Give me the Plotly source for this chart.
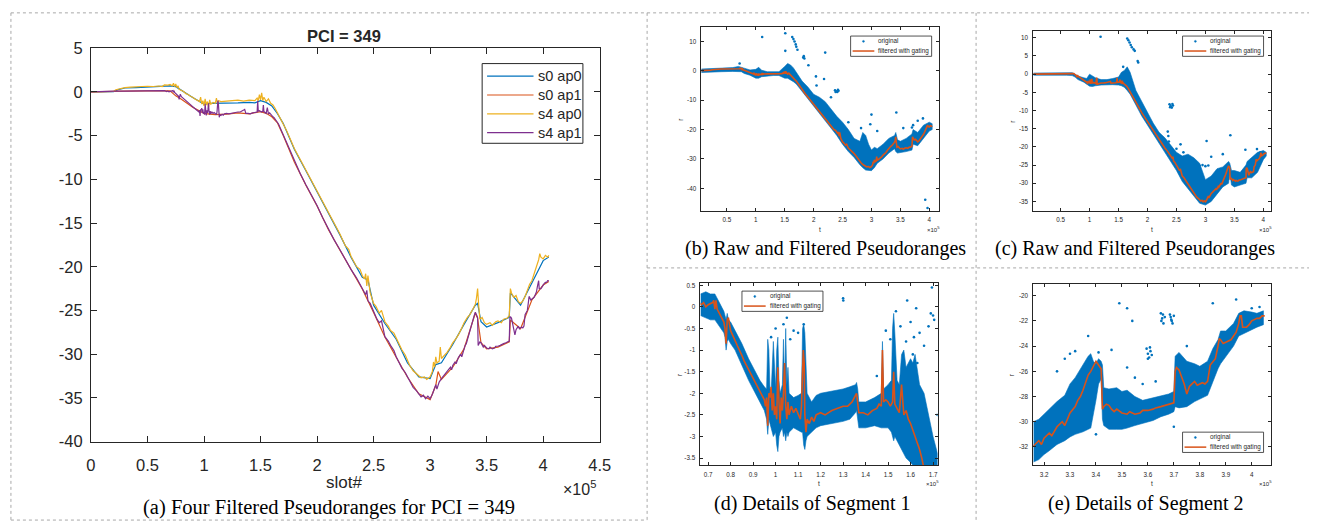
import plotly.graph_objects as go

W, H = 1320, 531
def px(x): return x / W
def py(y): return 1 - y / H

BLUE, ORANGE, YELLOW, PURPLE = '#0072BD', '#D95319', '#EDB120', '#7E2F8E'

# ---------------- main panel data (slot in units of 1e5) ----------------
s0_ap0_t = [0, 0.2, 0.25, 0.3, 0.4, 0.5, 0.6, 0.65, 0.7, 0.75, 0.8, 0.85, 0.9, 0.95, 1.0, 1.05, 1.1, 1.15,
            1.2, 1.3, 1.4, 1.45, 1.5, 1.55, 1.6, 1.65, 1.7, 1.8, 1.9, 2.0, 2.1, 2.2, 2.3, 2.4, 2.45, 2.5, 2.6,
            2.7, 2.8, 2.9, 3.0, 3.05, 3.1, 3.2, 3.3, 3.4, 3.42, 3.45, 3.5, 3.6, 3.7, 3.71, 3.8, 3.9, 4.0, 4.05]
s0_ap0_r = [0.0, 0.02, 0.3, 0.45, 0.5, 0.55, 0.6, 0.65, 0.7, 0.6, 0.15, -0.3, -0.65, -1.0, -1.4, -1.3, -1.3, -1.3,
            -1.25, -1.25, -1.2, -1.25, -1.0, -1.2, -1.6, -2.5, -3.6, -6.6, -9.0, -11.4, -13.9, -16.3, -18.9, -21.2,
            -21.5, -24.4, -26.5, -28.3, -31.0, -32.6, -32.8, -31.2, -31.0, -28.9, -26.6, -24.4, -24.2, -26.3, -26.9,
            -26.4, -25.8, -23.0, -24.4, -21.8, -19.3, -18.9]

s0_ap1_t = [0, 0.2, 0.3, 0.5, 0.7, 0.75, 0.8, 0.9, 1.0, 1.05, 1.1, 1.2, 1.3, 1.4, 1.5, 1.55, 1.6, 1.65, 1.7, 1.8,
            1.9, 2.0, 2.1, 2.2, 2.3, 2.4, 2.5, 2.6, 2.7, 2.8, 2.9, 3.0, 3.05, 3.07, 3.1, 3.2, 3.3, 3.4, 3.42, 3.45,
            3.5, 3.6, 3.7, 3.71, 3.8, 3.9, 4.0, 4.05]
s0_ap1_r = [0.0, 0.0, 0.08, 0.13, 0.12, -0.45, -0.85, -1.75, -2.45, -2.55, -2.6, -2.55, -2.4, -2.5, -2.25, -2.45,
            -2.85, -3.55, -4.95, -8.05, -10.65, -13.05, -15.75, -18.05, -20.35, -22.55, -25.25, -28.05, -30.35,
            -32.65, -34.55, -35.2, -33.6, -32.0, -32.9, -31.5, -29.4, -25.3, -25.9, -28.7, -29.4, -29.2, -28.6,
            -26.1, -27.1, -23.8, -22.1, -21.7]

s4_ap0_t = [0.00, 0.05, 0.10, 0.15, 0.20, 0.22, 0.25, 0.28, 0.30, 0.35, 0.40, 0.45, 0.50, 0.55, 0.60, 0.63, 0.65,
            0.68, 0.70, 0.72, 0.73, 0.74, 0.75, 0.76, 0.77, 0.78, 0.80, 0.82, 0.84, 0.86, 0.88, 0.90, 0.92, 0.94,
            0.96, 0.97, 0.98, 0.99, 1.00, 1.01, 1.02, 1.03, 1.04, 1.05, 1.06, 1.08, 1.10, 1.11, 1.12, 1.13, 1.15,
            1.20, 1.25, 1.30, 1.35, 1.40, 1.45, 1.47, 1.48, 1.49, 1.50, 1.51, 1.52, 1.53, 1.55, 1.57, 1.59, 1.61,
            1.63, 1.65, 1.67, 1.70, 1.73, 1.76, 1.80, 1.85, 1.90, 1.95, 2.00, 2.05, 2.10, 2.15, 2.20, 2.25, 2.28,
            2.30, 2.35, 2.38, 2.40, 2.42, 2.43, 2.44, 2.45, 2.47, 2.50, 2.52, 2.55, 2.57, 2.60, 2.63, 2.65, 2.68,
            2.70, 2.73, 2.75, 2.78, 2.80, 2.82, 2.85, 2.87, 2.90, 2.92, 2.95, 2.97, 3.00, 3.02, 3.03, 3.04, 3.05,
            3.06, 3.08, 3.09, 3.10, 3.12, 3.15, 3.18, 3.20, 3.23, 3.25, 3.28, 3.30, 3.33, 3.35, 3.38, 3.40, 3.41,
            3.42, 3.43, 3.44, 3.46, 3.48, 3.50, 3.53, 3.55, 3.58, 3.60, 3.63, 3.65, 3.68, 3.70, 3.71, 3.72, 3.74,
            3.76, 3.78, 3.80, 3.82, 3.84, 3.86, 3.88, 3.90, 3.92, 3.94, 3.96, 3.97, 3.98, 4.00, 4.02, 4.04, 4.05]
s4_ap0_r = [0.00, 0.00, 0.02, 0.03, 0.05, 0.25, 0.35, 0.45, 0.50, 0.55, 0.60, 0.62, 0.65, 0.62, 0.68, 0.62, 0.80,
            0.78, 0.85, 0.70, 1.00, 0.60, 0.90, 0.50, 0.70, 0.30, 0.20, 0.05, -0.20, -0.30, -0.50, -0.60, -0.80,
            -0.95, -1.10, -0.60, -1.40, -1.00, -1.60, -0.80, -1.50, -1.10, -1.70, -0.90, -1.40, -1.20, -1.30, -0.70,
            -1.40, -1.00, -1.10, -1.05, -1.00, -0.95, -1.05, -0.95, -1.00, -0.70, -1.00, -0.30, -0.90, -0.10, -1.00,
            -0.60, -1.10, -0.80, -1.30, -1.50, -1.90, -2.40, -2.90, -3.50, -4.40, -5.30, -6.50, -7.70, -8.90,
            -10.10, -11.30, -12.50, -13.80, -15.00, -16.20, -17.60, -18.00, -18.80, -20.00, -20.30, -21.00, -21.40,
            -20.80, -22.20, -21.00, -23.00, -24.20, -24.50, -25.30, -25.00, -26.30, -26.80, -27.30, -27.60, -28.20,
            -28.90, -29.50, -30.10, -30.80, -31.30, -31.90, -32.10, -32.40, -32.70, -32.60, -32.90, -32.60, -32.00,
            -30.90, -31.50, -30.30, -31.00, -30.80, -29.20, -30.50, -30.20, -29.80, -29.20, -28.70, -28.20, -27.80,
            -27.00, -26.40, -25.80, -25.50, -24.80, -24.30, -23.60, -22.50, -24.50, -26.00, -25.80, -26.40, -26.60,
            -26.40, -26.70, -26.30, -26.20, -26.40, -26.00, -25.90, -25.60, -22.50, -23.00, -23.50, -23.30, -24.00,
            -24.20, -23.90, -23.40, -22.60, -22.00, -21.60, -20.80, -20.00, -19.20, -18.50, -18.90, -19.10, -18.70,
            -18.90, -18.70]

s4_ap1_t = [0.00, 0.10, 0.20, 0.22, 0.30, 0.40, 0.50, 0.60, 0.65, 0.67, 0.68, 0.69, 0.70, 0.71, 0.72, 0.725, 0.73,
            0.735, 0.74, 0.75, 0.76, 0.77, 0.775, 0.78, 0.785, 0.79, 0.80, 0.81, 0.82, 0.83, 0.84, 0.85, 0.86, 0.87,
            0.88, 0.89, 0.90, 0.91, 0.92, 0.93, 0.94, 0.95, 0.955, 0.96, 0.965, 0.97, 0.975, 0.98, 0.985, 0.99,
            0.995, 1.00, 1.005, 1.01, 1.015, 1.02, 1.025, 1.03, 1.035, 1.04, 1.045, 1.05, 1.055, 1.06, 1.07, 1.08,
            1.09, 1.10, 1.11, 1.115, 1.12, 1.123, 1.127, 1.13, 1.135, 1.14, 1.15, 1.16, 1.17, 1.18, 1.20, 1.22,
            1.25, 1.28, 1.30, 1.32, 1.34, 1.355, 1.36, 1.37, 1.39, 1.41, 1.43, 1.45, 1.46, 1.47, 1.475, 1.48, 1.49,
            1.50, 1.51, 1.52, 1.525, 1.53, 1.54, 1.55, 1.56, 1.565, 1.57, 1.58, 1.59, 1.60, 1.61, 1.62, 1.63, 1.64,
            1.65, 1.66, 1.67, 1.70, 1.73, 1.76, 1.80, 1.85, 1.90, 1.95, 2.00, 2.05, 2.10, 2.15, 2.20, 2.25, 2.30,
            2.35, 2.40, 2.43, 2.44, 2.45, 2.47, 2.50, 2.53, 2.55, 2.57, 2.60, 2.63, 2.65, 2.68, 2.70, 2.73, 2.75,
            2.78, 2.80, 2.83, 2.85, 2.88, 2.90, 2.92, 2.94, 2.96, 2.98, 3.00, 3.02, 3.04, 3.05, 3.06, 3.08, 3.10,
            3.12, 3.14, 3.16, 3.18, 3.19, 3.20, 3.22, 3.23, 3.25, 3.27, 3.28, 3.30, 3.31, 3.32, 3.33, 3.34, 3.35,
            3.36, 3.37, 3.38, 3.39, 3.40, 3.41, 3.42, 3.425, 3.43, 3.44, 3.45, 3.46, 3.47, 3.48, 3.50, 3.52, 3.53,
            3.55, 3.57, 3.58, 3.60, 3.62, 3.63, 3.65, 3.67, 3.68, 3.70, 3.705, 3.71, 3.72, 3.73, 3.74, 3.75, 3.76,
            3.77, 3.78, 3.79, 3.80, 3.81, 3.82, 3.83, 3.84, 3.85, 3.86, 3.87, 3.875, 3.88, 3.89, 3.90, 3.91, 3.92,
            3.93, 3.94, 3.95, 3.955, 3.96, 3.965, 3.97, 3.98, 3.99, 4.00, 4.01, 4.02, 4.03, 4.04, 4.05]
s4_ap1_r = [0.00, 0.00, 0.00, 0.08, 0.10, 0.12, 0.15, 0.18, 0.15, 0.05, 0.10, 0.00, 0.05, 0.08, 0.10, 0.15, -0.05,
            0.15, -0.05, -0.15, -0.25, -0.35, -0.50, -0.85, -0.30, -0.25, -0.55, -0.65, -0.78, -0.90, -1.00, -1.12,
            -1.25, -1.35, -1.45, -1.58, -1.68, -1.78, -1.88, -1.98, -2.05, -2.15, -2.30, -2.10, -2.75, -2.00, -2.10,
            -1.85, -2.40, -2.00, -2.50, -2.30, -2.60, -1.40, -2.20, -2.70, -2.10, -2.40, -2.00, -1.30, -2.30, -2.60,
            -2.20, -2.50, -2.30, -2.45, -2.35, -2.50, -2.60, -2.30, -1.20, -1.00, -1.30, -2.50, -2.90, -2.60, -2.70,
            -2.55, -2.65, -2.50, -2.45, -2.50, -2.40, -2.35, -2.30, -2.30, -2.20, -2.05, -2.00, -2.45, -2.45, -2.50,
            -2.40, -2.35, -2.25, -2.30, -1.00, -2.20, -2.15, -2.20, -2.30, -2.20, -1.50, -2.25, -2.35, -2.45, -1.80,
            -2.10, -2.50, -2.40, -2.60, -2.70, -2.85, -2.95, -3.10, -3.30, -3.50, -3.70, -4.00, -4.90, -5.80, -6.80,
            -8.00, -9.30, -10.60, -11.80, -13.00, -14.40, -15.70, -16.90, -18.00, -19.20, -20.30, -21.30, -22.50,
            -23.20, -22.70, -23.90, -24.20, -25.20, -26.00, -26.40, -26.20, -28.00, -28.50, -29.00, -29.60, -30.30,
            -31.00, -31.60, -32.10, -32.60, -33.30, -33.80, -34.20, -34.50, -34.90, -34.70, -35.10, -34.80, -35.10,
            -34.60, -34.00, -33.50, -34.00, -33.20, -32.80, -32.50, -32.10, -31.90, -31.50, -31.80, -31.30, -30.90,
            -31.10, -30.40, -30.00, -30.30, -29.30, -29.00, -28.80, -28.30, -28.00, -27.50, -26.80, -26.30, -26.00,
            -25.60, -25.20, -25.50, -25.80, -29.00, -28.80, -28.60, -28.70, -29.00, -29.20, -29.00, -29.30, -29.40,
            -29.20, -29.40, -29.30, -29.10, -29.10, -29.00, -28.90, -28.80, -28.70, -28.60, -28.50, -26.00, -25.70,
            -25.90, -26.50, -27.00, -27.80, -27.20, -27.00, -26.80, -27.10, -27.00, -26.90, -27.00, -26.80, -25.50,
            -25.20, -25.00, -24.00, -23.40, -23.50, -23.80, -23.70, -23.60, -23.50, -23.20, -22.90, -22.20, -21.60,
            -21.60, -22.50, -22.50, -22.50, -22.30, -22.00, -21.90, -21.80, -21.80, -21.60, -21.60]

main_names = ['s0 ap0', 's0 ap1', 's4 ap0', 's4 ap1']
main_xticks = [0, 0.5, 1, 1.5, 2, 2.5, 3, 3.5, 4, 4.5]
main_yticks = [5, 0, -5, -10, -15, -20, -25, -30, -35, -40]

# ---------------- panel (b): raw cloud envelope and outliers ----------------
b_band_t = [0.05, 0.2, 0.4, 0.6, 0.7, 0.75, 0.8, 0.9, 1.0, 1.05, 1.1, 1.2, 1.3, 1.4, 1.5, 1.55, 1.6, 1.65, 1.7,
            1.75, 1.8, 1.9, 2.0, 2.1, 2.2, 2.3, 2.4, 2.5, 2.6, 2.7, 2.8, 2.85, 2.9, 2.95, 3.0, 3.05, 3.1, 3.2, 3.3,
            3.4, 3.42, 3.45, 3.5, 3.6, 3.7, 3.72, 3.8, 3.9, 4.0, 4.05]
b_band_hi = [0.6, 0.7, 1.0, 1.1, 1.5, 1.3, 0.9, 0.3, 0.5, 1.2, 0.2, -0.3, -0.4, -0.3, 1.5, 2.5, 2.0, 1.0, -0.5,
             -2.0, -3.5, -5.5, -8.0, -9.0, -10.5, -13.0, -15.5, -17.5, -20.0, -23.0, -24.0, -21.0, -22.0, -25.0,
             -27.0, -26.0, -26.5, -25.0, -23.0, -22.0, -21.0, -23.5, -24.0, -23.0, -21.5, -20.0, -21.0, -18.5,
             -17.5, -18.0]
b_band_lo = [-0.6, -0.5, -0.3, -0.2, -0.2, -0.3, -0.9, -1.5, -2.5, -2.5, -2.0, -1.7, -1.6, -1.6, -2.5, -2.5, -3.0,
             -3.7, -4.5, -5.8, -7.3, -9.6, -12.2, -14.5, -17.0, -19.5, -22.0, -25.0, -27.5, -29.5, -32.0, -33.0,
             -33.8, -34.0, -34.0, -33.0, -31.5, -30.0, -28.0, -26.5, -27.5, -28.0, -28.0, -27.5, -27.0, -25.0,
             -25.5, -23.0, -20.5, -20.0]
b_out_t = [0.72, 1.11, 1.51, 1.51, 1.63, 1.65, 1.67, 1.69, 1.70, 1.72, 1.82, 1.83, 1.84, 1.91, 2.04, 2.20, 2.18,
           2.37, 2.39, 2.41, 2.43, 2.38, 2.42, 2.82, 3.00, 2.98, 3.43, 3.70, 3.72, 3.89, 3.93, 3.97, 2.30, 2.60,
           3.10, 3.55, 3.80, 2.05]
b_out_r = [2.5, 11.5, 12.8, 6.8, 11.5, 10.8, 10.0, 9.0, 8.2, 7.2, 4.5, 5.0, 4.2, 1.9, -1.9, 6.2, -2.8, -6.6, -7.0,
           -7.2, -6.8, -7.2, -6.5, -19.5, -14.9, -18.2, -14.2, -19.3, -18.5, -16.2, -43.9, -46.7, -9.0, -17.5,
           -20.5, -19.5, -17.0, -5.0]
b_xticks = [0.5, 1, 1.5, 2, 2.5, 3, 3.5, 4]
b_yticks = [10, 0, -10, -20, -30, -40]

# ---------------- panel (c) ----------------
c_band_t = [0.03, 0.3, 0.6, 0.7, 0.75, 0.8, 0.9, 0.95, 1.0, 1.05, 1.1, 1.2, 1.3, 1.4, 1.5, 1.55, 1.6, 1.65, 1.7,
            1.8, 1.9, 2.0, 2.1, 2.2, 2.3, 2.4, 2.5, 2.6, 2.7, 2.8, 2.9, 3.0, 3.1, 3.2, 3.3, 3.4, 3.42, 3.45, 3.5,
            3.6, 3.7, 3.72, 3.8, 3.9, 4.0, 4.05]
c_band_hi = [0.3, 0.3, 0.4, 0.4, 0.0, -0.5, -1.0, -1.2, 0.0, -0.5, -1.0, -1.5, -1.5, -1.2, -0.8, 0.5, 1.0, 2.0,
             0.5, -4.5, -7.5, -10.5, -13.5, -16.0, -17.5, -19.5, -21.5, -22.5, -22.0, -23.0, -24.5, -29.0, -28.0,
             -26.0, -25.5, -24.0, -24.5, -26.5, -26.5, -27.0, -25.0, -24.0, -23.0, -21.5, -21.0, -21.5]
c_band_lo = [-0.3, -0.3, -0.3, -0.4, -0.8, -1.5, -2.2, -2.7, -3.3, -3.4, -3.2, -3.0, -2.9, -2.9, -3.0, -3.2, -3.6,
             -4.5, -5.5, -8.5, -11.5, -13.8, -16.5, -19.0, -21.5, -24.0, -26.5, -29.5, -31.5, -33.5, -35.5, -36.0,
             -35.0, -33.0, -31.0, -30.0, -27.0, -30.5, -31.0, -30.5, -30.0, -28.5, -28.5, -27.0, -23.5, -22.5]
c_out_t = [1.19, 1.65, 1.67, 1.69, 1.71, 1.73, 1.76, 1.78, 1.83, 1.84, 1.58, 2.38, 2.40, 2.42, 2.44, 2.39, 2.43,
           2.35, 2.36, 2.37, 2.57, 3.02, 2.90, 2.95, 3.00, 3.05, 3.10, 3.30, 3.43, 3.69, 3.89, 3.95, 2.62, 2.50]
c_out_r = [10.3, 9.8, 9.3, 8.7, 8.0, 7.4, 6.8, 6.4, 3.6, 3.2, 2.0, -8.3, -8.8, -9.2, -8.6, -9.1, -8.2, -15.8,
           -17.0, -18.5, -19.3, -18.4, -25.2, -25.0, -25.3, -25.1, -22.7, -22.0, -16.8, -20.8, -20.6, -21.5,
           -21.5, -20.5]
c_xticks = [0.5, 1, 1.5, 2, 2.5, 3, 3.5, 4]
c_yticks = [10, 5, 0, -5, -10, -15, -20, -25, -30, -35]

# ---------------- panel (d): segment 1 ----------------
d_band_t = [0.666, 0.69, 0.71, 0.73, 0.75, 0.77, 0.775, 0.78, 0.785, 0.79, 0.80, 0.82, 0.85, 0.88, 0.90, 0.93,
            0.95, 0.96, 0.965, 0.97, 0.975, 0.98, 0.99, 1.0, 1.005, 1.01, 1.015, 1.02, 1.03, 1.035, 1.04, 1.045,
            1.05, 1.055, 1.06, 1.08, 1.10, 1.115, 1.12, 1.125, 1.13, 1.135, 1.14, 1.16, 1.18, 1.20, 1.25, 1.30,
            1.33, 1.355, 1.36, 1.365, 1.37, 1.40, 1.44, 1.47, 1.475, 1.48, 1.50, 1.515, 1.52, 1.525, 1.53, 1.54,
            1.55, 1.56, 1.57, 1.58, 1.60, 1.61, 1.62, 1.64, 1.66, 1.68, 1.70, 1.72]
d_band_hi = [0.3, 0.35, 0.3, 0.3, 0.1, -0.1, -0.2, -0.3, -0.15, -0.3, -0.35, -0.55, -0.85, -1.2, -1.4, -1.7,
             -1.85, -1.9, -0.75, -1.0, -1.9, -2.0, -0.8, -1.9, -1.0, -0.7, -1.7, -2.0, -1.8, -0.75, -1.9, -0.5,
             -1.8, -1.4, -2.0, -2.1, -2.05, -2.0, -0.5, -0.4, -0.6, -1.5, -2.0, -2.2, -2.05, -2.0, -1.95, -1.9,
             -1.85, -1.8, -1.75, -1.9, -2.2, -2.2, -2.1, -2.0, -0.8, -1.9, -1.8, -1.7, -0.5, -0.15, -0.6, -1.7,
             -1.8, -1.1, -1.0, -1.4, -1.2, -1.3, -1.1, -1.8, -2.0, -2.5, -3.0, -3.4]
d_band_lo = [-0.2, -0.25, -0.3, -0.3, -0.45, -0.6, -0.7, -1.0, -0.8, -0.75, -0.85, -1.0, -1.35, -1.7, -1.9, -2.2,
             -2.4, -2.6, -2.95, -2.6, -2.7, -2.8, -3.0, -2.9, -3.2, -3.35, -3.0, -2.9, -2.8, -3.0, -2.9, -3.1,
             -2.9, -3.0, -2.9, -2.8, -2.85, -2.9, -2.9, -3.2, -3.3, -3.1, -3.0, -2.9, -2.8, -2.75, -2.7, -2.65,
             -2.6, -2.45, -2.4, -2.6, -2.8, -2.8, -2.75, -2.8, -2.8, -2.8, -2.8, -2.9, -3.0, -3.1, -3.0, -3.1,
             -3.2, -3.3, -3.4, -3.5, -3.6, -3.66, -3.66, -3.66, -3.66, -3.66, -3.66, -3.66]
d_out_t = [1.30, 1.301, 1.585, 1.625, 1.695, 1.64, 1.70, 1.72, 1.68, 1.535, 1.05, 1.08, 1.10, 1.58, 1.49, 1.51,
           1.60, 1.66, 1.63, 1.45, 0.98, 1.00, 1.035, 1.065, 1.125, 1.555, 1.615, 1.69, 1.705, 1.61]
d_out_r = [0.20, 0.15, 0.15, -0.03, 0.45, -0.60, -0.20, -2.50, -0.45, -0.10, -0.25, -0.55, -0.60, -0.80, -0.55,
           -0.75, -0.35, -0.90, -1.30, -1.60, -0.70, -0.50, -0.40, -0.75, -0.40, -0.45, -0.70, -0.15, -0.30, -1.10]
d_xticks = [0.7, 0.8, 0.9, 1, 1.1, 1.2, 1.3, 1.4, 1.5, 1.6, 1.7]
d_yticks = [0.5, 0, -0.5, -1, -1.5, -2, -2.5, -3, -3.5]

# ---------------- panel (e): segment 2 ----------------
e_band_t = [3.159, 3.18, 3.2, 3.22, 3.25, 3.28, 3.3, 3.32, 3.35, 3.37, 3.38, 3.39, 3.40, 3.41, 3.42, 3.425, 3.43,
            3.45, 3.48, 3.5, 3.52, 3.55, 3.58, 3.6, 3.62, 3.65, 3.68, 3.70, 3.705, 3.72, 3.75, 3.78, 3.80, 3.83,
            3.85, 3.87, 3.88, 3.90, 3.93, 3.95, 3.97, 4.00, 4.02, 4.045]
e_band_hi = [-30.0, -29.8, -29.4, -29.0, -28.4, -27.9, -27.0, -26.5, -25.5, -24.8, -24.6, -25.2, -25.4, -25.0,
             -25.2, -25.5, -27.3, -27.4, -27.3, -27.6, -27.5, -28.0, -28.3, -28.2, -28.1, -27.9, -27.8, -27.6,
             -24.8, -24.5, -25.2, -25.4, -25.6, -25.2, -24.2, -23.5, -22.8, -22.8, -22.2, -21.4, -21.2, -21.3,
             -21.4, -21.2]
e_band_lo = [-33.2, -33.0, -32.6, -32.3, -31.8, -31.5, -31.2, -31.0, -30.8, -30.6, -30.5, -29.5, -28.3, -27.0,
             -26.6, -29.8, -30.3, -30.6, -30.6, -30.6, -30.5, -30.3, -30.1, -30.0, -29.9, -29.6, -29.4, -29.2,
             -28.8, -28.9, -28.8, -28.4, -28.2, -27.9, -26.8, -25.8, -25.4, -24.8, -24.0, -23.2, -23.0, -22.7,
             -22.5, -22.3]
e_out_t = [3.650, 3.655, 3.660, 3.652, 3.658, 3.665, 3.685, 3.690, 3.695, 3.688, 3.692, 3.700, 3.595, 3.600, 3.605,
           3.610, 3.615, 3.600, 3.608, 3.49, 3.52, 3.54, 3.37, 3.41, 3.94, 3.85, 3.52, 3.25, 3.46, 3.75, 3.30,
           3.28, 3.32, 3.55, 3.58, 3.63, 3.35, 3.40, 3.70, 4.00, 4.03]
e_out_r = [-21.4, -21.8, -22.2, -22.0, -21.5, -21.7, -21.5, -21.9, -22.2, -21.7, -22.0, -21.6, -24.2, -24.6, -24.9,
           -24.4, -24.7, -25.0, -24.1, -20.6, -21.0, -22.0, -23.2, -24.5, -20.3, -20.6, -25.7, -26.0, -24.3, -24.0,
           -24.6, -25.0, -24.4, -26.5, -27.0, -26.8, -30.5, -31.0, -30.4, -21.0, -20.9]
e_xticks = [3.2, 3.3, 3.4, 3.5, 3.6, 3.7, 3.8, 3.9, 4]
e_yticks = [-20, -22, -24, -26, -28, -30, -32]

legend_labels = ['original', 'filtered with gating']

# ---------------- figure ----------------
fig = go.Figure()
main_cols = [BLUE, ORANGE, YELLOW, PURPLE]
for t, r, name, col in zip([s0_ap0_t, s0_ap1_t, s4_ap0_t, s4_ap1_t], [s0_ap0_r, s0_ap1_r, s4_ap0_r, s4_ap1_r],
                           main_names, main_cols):
    fig.add_trace(go.Scatter(x=t, y=r, mode='lines', name=name, line=dict(color=col, width=1.2),
                             xaxis='x', yaxis='y', showlegend=False))

def small_panel(ax, band_t, hi, lo, out_t, out_r, line_t, line_r):
    fig.add_trace(go.Scatter(x=band_t + band_t[::-1], y=hi + lo[::-1], mode='lines', fill='toself',
                             fillcolor=BLUE, line=dict(color=BLUE, width=0.6), showlegend=False,
                             xaxis='x' + ax, yaxis='y' + ax, hoverinfo='skip'))
    fig.add_trace(go.Scatter(x=out_t, y=out_r, mode='markers', marker=dict(color=BLUE, size=2.6),
                             name=legend_labels[0], showlegend=False, xaxis='x' + ax, yaxis='y' + ax))
    fig.add_trace(go.Scatter(x=line_t, y=line_r, mode='lines', line=dict(color=ORANGE, width=1.6),
                             name=legend_labels[1], showlegend=False, xaxis='x' + ax, yaxis='y' + ax))

small_panel('2', b_band_t, b_band_hi, b_band_lo, b_out_t, b_out_r, s4_ap0_t, s4_ap0_r)
small_panel('3', c_band_t, c_band_hi, c_band_lo, c_out_t, c_out_r, s4_ap1_t, s4_ap1_r)
small_panel('4', d_band_t, d_band_hi, d_band_lo, d_out_t, d_out_r, s4_ap1_t, s4_ap1_r)
small_panel('5', e_band_t, e_band_hi, e_band_lo, e_out_t, e_out_r, s4_ap1_t, s4_ap1_r)

AX = '#262626'
def axis(domain, rng, ticks, size, ticklen, standoff):
    return dict(domain=domain, range=rng, tickvals=ticks, ticktext=[f"{v:g}" for v in ticks],
                showline=True, linecolor=AX, linewidth=1, mirror='ticks', ticks='inside', ticklen=ticklen,
                tickcolor=AX, tickwidth=1, showgrid=False, zeroline=False, ticklabelstandoff=standoff,
                tickfont=dict(family='Liberation Sans', size=size, color=AX))

fig.update_layout(
    width=W, height=H, margin=dict(l=0, r=0, t=0, b=0),
    paper_bgcolor='white', plot_bgcolor='white', showlegend=False,
    xaxis=axis([px(87), px(602)], [0, 4.5], main_xticks, 16.5, 6, 9),
    yaxis=axis([py(447.7), py(40.6)], [-40, 5], main_yticks, 16.5, 6, 4),
    xaxis2=axis([px(705), px(945)], [0.06, 4.16], b_xticks, 6.3, 3, 3),
    yaxis2=axis([py(209), py(19)], [-47.7, 14.8], b_yticks, 6.3, 3, 3),
    xaxis3=axis([px(1041), px(1282)], [0.03, 4.14], c_xticks, 6.3, 3, 3),
    yaxis3=axis([py(209), py(23)], [-37.6, 11.8], c_yticks, 6.3, 3, 3),
    xaxis4=axis([px(704), px(944)], [0.666, 1.72], d_xticks, 6.3, 3, 3),
    yaxis4=axis([py(472), py(284)], [-3.66, 0.545], d_yticks, 6.3, 3, 3),
    xaxis5=axis([px(1041), px(1282)], [3.159, 4.076], e_xticks, 6.3, 3, 3),
    yaxis5=axis([py(472), py(285)], [-33.43, -19.1], e_yticks, 6.3, 3, 3),
)
for i in range(2, 6):
    fig.layout['xaxis%d' % i].anchor = 'y%d' % i
    fig.layout['yaxis%d' % i].anchor = 'x%d' % i

shapes, anns = [], []

def ann(text, x, y, size, family='Liberation Sans', xanchor='center', angle=0, color=AX):
    anns.append(dict(text=text, x=px(x), y=py(y), xref='paper', yref='paper', showarrow=False,
                     xanchor=xanchor, yanchor='middle', textangle=angle,
                     font=dict(family=family, size=size, color=color)))

def pline(x0, y0, x1, y1, color, width, dash='solid'):
    shapes.append(dict(type='line', xref='paper', yref='paper', x0=px(x0), y0=py(y0), x1=px(x1), y1=py(y1),
                       line=dict(color=color, width=width, dash=dash)))

def dotted(x0, y0, x1, y1):
    pline(x0, y0, x1, y1, '#a8a8a8', 1, 'dot')

# panel frames
dotted(6, 4, 650, 4); dotted(6, 529, 650, 529); dotted(6, 4, 6, 529); dotted(650, 4, 650, 529)
dotted(650, 4, 1320, 4); dotted(650, 268, 1320, 268); dotted(983, 4, 983, 531)

# main legend (box drawn as layout decoration, entries from the series names/colours)
shapes.append(dict(type='rect', xref='paper', yref='paper', x0=px(483), y0=py(56.5), x1=px(585), y1=py(139),
                   line=dict(color=AX, width=1), fillcolor='white'))
for k, (name, col) in enumerate(zip(main_names, main_cols)):
    yy = 69.5 + 19.5 * k
    pline(488, yy, 535, yy, col, 1.2)
    ann(name, 538, yy, 14.5, xanchor='left')

# main panel texts
ann('<b>PCI = 349</b>', 343, 28, 16.5)
ann('slot#', 343, 490, 17)
ann('×10<sup>5</sup>', 600, 496, 16, xanchor='right')
ann('(a) Four Filtered Pseudoranges for PCI = 349', 328, 516, 20.5, family='Liberation Serif', color='black')

# small panel texts
for (xl, xr, yb, yt, cx, cy, cap) in [
        (705, 945, 209, 19, 831, 248, '(b) Raw and Filtered Pseudoranges'),
        (1041, 1282, 209, 23, 1144, 248, '(c) Raw and Filtered Pseudoranges'),
        (704, 944, 472, 284, 817, 512, '(d) Details of Segment 1'),
        (1041, 1282, 472, 285, 1155, 512, '(e) Details of Segment 2')]:
    ann('t', (xl + xr) / 2, yb + 19, 6.5)
    ann('×10<sup>5</sup>', xr + 3, yb + 19, 6, xanchor='right')
    ann('r', xl - 22, (yb + yt) / 2, 6.5, angle=-90)
    ann(cap, cx, cy, 20, family='Liberation Serif', color='black')

def small_legend(x0, y0, w=82, h=21):
    shapes.append(dict(type='rect', xref='paper', yref='paper', x0=px(x0), y0=py(y0), x1=px(x0 + w),
                       y1=py(y0 + h), line=dict(color=AX, width=0.8), fillcolor='white'))
    shapes.append(dict(type='circle', xref='paper', yref='paper', x0=px(x0 + 12), y0=py(y0 + 4.5),
                       x1=px(x0 + 14), y1=py(y0 + 6.5), line=dict(color=BLUE, width=0.5), fillcolor=BLUE))
    pline(x0 + 2, y0 + 15.5, x0 + 24, y0 + 15.5, ORANGE, 1.5)
    ann(legend_labels[0], x0 + 26, y0 + 5.5, 6.3, xanchor='left')
    ann(legend_labels[1], x0 + 26, y0 + 15.5, 6.3, xanchor='left')

small_legend(856, 28)
small_legend(1192, 28)
small_legend(746, 292)
small_legend(1192, 438)

fig.update_layout(shapes=shapes, annotations=anns)
fig.write_html("out.html")
